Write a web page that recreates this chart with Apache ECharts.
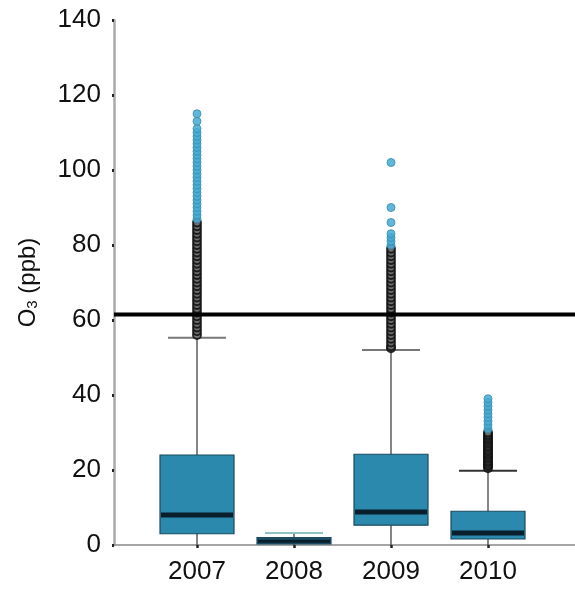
<!DOCTYPE html>
<html>
<head>
<meta charset="utf-8">
<script src="https://cdn.jsdelivr.net/npm/echarts@6/dist/echarts.min.js"></script>
<style>html,body{margin:0;padding:0;background:#fff}#c{width:575px;height:589px}</style>
</head>
<body>
<div id="c"></div>
<script>
const years = ['2007', '2008', '2009', '2010'];
const yTicks = [0, 20, 40, 60, 80, 100, 120, 140];
// [low whisker, Q1, median, Q3, high whisker]
const box2007 = [0, 3, 8, 24, 55.3];
const box2008 = [0, 0.3, 1, 2, 3.2];
const box2009 = [0, 5.3, 8.8, 24.2, 52];
const box2010 = [0, 1.6, 3.2, 9, 19.8];
const threshold = 61.5;
// outliers (dense = overlapping, drawn dark; sparse = drawn blue)
const dense2007 = [56,57,58,59,60,61,62,63,64,65,66,67,68,69,70,71,72,73,74,75,76,77,78,79,80,81,82,83,84,85,86];
const sparse2007 = [87,88,89,90,91,92,93,94,95,96,97,98,99,100,101,102,103,104,105,106,107,108,109,110,111,113,115];
const dense2009 = [52.5,53,54,55,56,57,58,59,60,61,62,63,64,65,66,67,68,69,70,71,72,73,74,75,76,77,78,79];
const sparse2009 = [80,81,82,83,86,90,102];
const dense2010 = [20.5,21,21.5,22,22.5,23,23.5,24,24.5,25,25.5,26,26.5,27,27.5,28,28.5,29,29.5,30];
const sparse2010 = [31,32,33,34,35,36,37,38,39];

const boxes = [box2007, box2008, box2009, box2010];
const boxData = boxes.map((b, i) => [i].concat(b));
const denseData = [];
[dense2007, [], dense2009, dense2010].forEach((arr, i) => arr.forEach(v => denseData.push([i, v])));
const sparseData = [];
[sparse2007, [], sparse2009, sparse2010].forEach((arr, i) => arr.forEach(v => sparseData.push([i, v])));

const chart = echarts.init(document.getElementById('c'));
const font = 'Liberation Sans, Arial, sans-serif';

chart.setOption({
  animation: false,
  backgroundColor: '#fff',
  grid: [
    { left: 114, right: 0, top: 20, bottom: 44 },
    { left: 148.5, width: 388, top: 20, bottom: 44 }
  ],
  xAxis: [
    { type: 'value', gridIndex: 0, min: 0, max: 1,
      axisLine: { show: true, lineStyle: { color: '#888', width: 1.5 } },
      axisTick: { show: false }, axisLabel: { show: false }, splitLine: { show: false } },
    { type: 'category', gridIndex: 1, data: years, boundaryGap: true,
      axisLine: { show: false },
      axisTick: { show: true, alignWithLabel: true, length: 3, lineStyle: { color: '#222', width: 2.5 } },
      axisLabel: { fontSize: 26, color: '#111', fontFamily: font, margin: 14 },
      splitLine: { show: false } }
  ],
  yAxis: [
    { type: 'value', gridIndex: 0, min: 0, max: 140, interval: 20,
      name: '{a|O}{b|3}{a| (ppb)}', nameLocation: 'middle', nameRotate: 90, nameGap: 74,
      nameTextStyle: {
        fontFamily: font,
        rich: {
          a: { fontSize: 24, color: '#111', fontFamily: font },
          b: { fontSize: 15, color: '#111', fontFamily: font, verticalAlign: 'bottom', padding: [8, 0, 0, 0] }
        }
      },
      axisLine: { show: true, lineStyle: { color: '#aaa', width: 2.5 } },
      axisTick: { show: true, length: 2, lineStyle: { color: '#222', width: 3 } },
      axisLabel: { fontSize: 26, color: '#111', fontFamily: font, margin: 13 },
      splitLine: { show: false } },
    { type: 'value', gridIndex: 1, min: 0, max: 140, interval: 20, show: false }
  ],
  series: [
    {
      type: 'custom', xAxisIndex: 1, yAxisIndex: 1, data: boxData, z: 3,
      renderItem: function (params, api) {
        const idx = api.value(0);
        const x = api.coord([idx, 0])[0];
        const y = k => api.coord([idx, api.value(k)])[1];
        const yLow = y(1), yQ1 = y(2), yMed = y(3), yQ3 = y(4), yHigh = y(5);
        const bw = 74, cw = 58;
        const is2008 = idx === 1;
        const capColor = is2008 ? '#8fc3c8' : (idx === 3 ? '#333' : '#777');
        return {
          type: 'group',
          children: [
            { type: 'line', shape: { x1: x, y1: yLow, x2: x, y2: yHigh },
              style: { stroke: '#444', lineWidth: 1.3 } },
            { type: 'line', shape: { x1: x - cw / 2, y1: yHigh, x2: x + cw / 2, y2: yHigh },
              style: { stroke: capColor, lineWidth: 2 } },
            { type: 'rect', shape: { x: x - bw / 2, y: yQ3, width: bw, height: yQ1 - yQ3 },
              style: { fill: is2008 ? '#1b4f66' : '#2b89ae', stroke: '#1b4a5e', lineWidth: 1.2 } },
            { type: 'line', shape: { x1: x - bw / 2 + 1, y1: yMed, x2: x + bw / 2 - 1, y2: yMed },
              style: { stroke: '#0a1f2c', lineWidth: is2008 ? 3 : 5 } }
          ]
        };
      }
    },
    {
      type: 'scatter', xAxisIndex: 1, yAxisIndex: 1, data: denseData, z: 4,
      symbol: 'circle', symbolSize: 8,
      itemStyle: { color: '#6d6d6d', borderColor: '#0a0a0a', borderWidth: 2 }
    },
    {
      type: 'scatter', xAxisIndex: 1, yAxisIndex: 1, data: sparseData, z: 4,
      symbol: 'circle', symbolSize: 8,
      itemStyle: { color: '#45aad4', borderColor: '#3a8fb0', borderWidth: 1, opacity: 0.85 }
    },
    {
      type: 'line', xAxisIndex: 0, yAxisIndex: 0, z: 5,
      data: [[0, threshold], [1, threshold]],
      symbol: 'none', lineStyle: { color: '#000', width: 4 }
    }
  ]
});
</script>
</body>
</html>
